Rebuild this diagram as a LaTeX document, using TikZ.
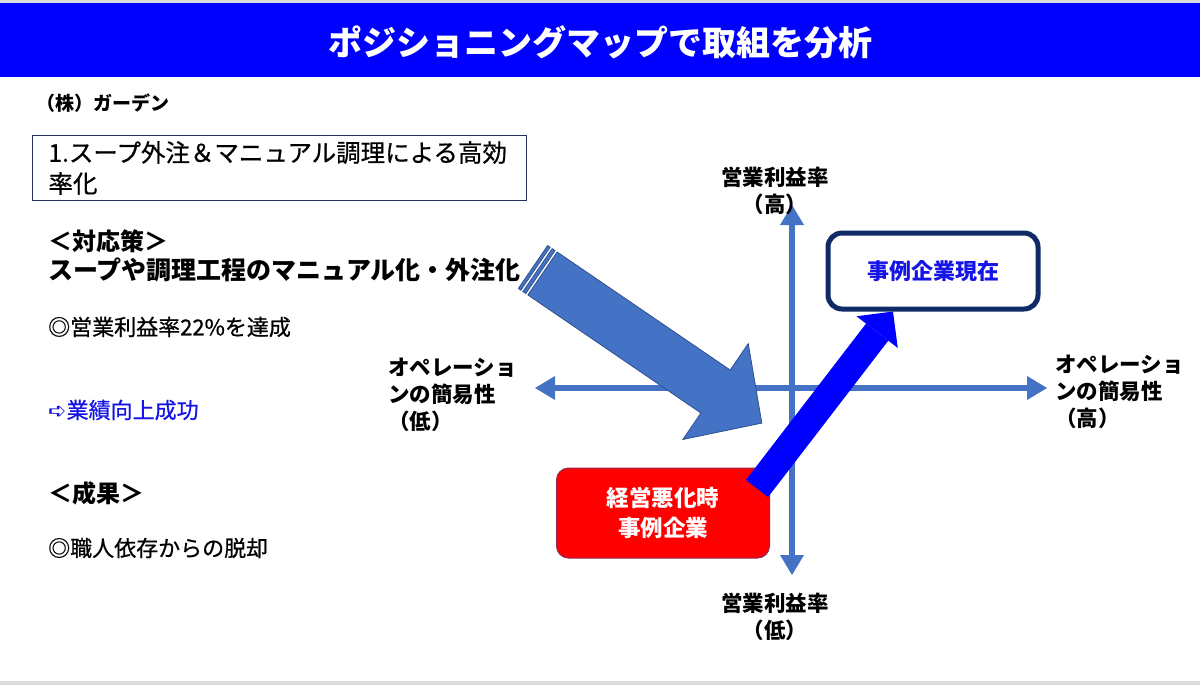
\documentclass[tikz,border=0pt]{standalone}
\usepackage{fontspec}
\setmainfont{Noto Sans CJK JP}
\newfontfamily\midfont[FakeBold=0.7]{Noto Sans CJK JP}
\newfontfamily\dingfont{DejaVu Sans}
\usetikzlibrary{positioning,calc,arrows.meta}

\definecolor{axisblue}{HTML}{4472C4}
\definecolor{arrowedge}{HTML}{2F528F}
\definecolor{navyedge}{HTML}{102A66}
\definecolor{pureblue}{HTML}{0000FF}
\definecolor{textblue}{HTML}{1414E6}
\definecolor{alarmred}{HTML}{FF0000}
\definecolor{rededge}{HTML}{8E2B54}
\definecolor{boxedge}{HTML}{27305E}
\definecolor{rulegray}{HTML}{DCDCDC}

\newcommand{\pxsize}[1]{\fontsize{#1}{#1}\selectfont}

\begin{document}
\begin{tikzpicture}[x=1pt,y=-1pt,
    every node/.style={inner sep=0pt},
    body/.style={anchor=west, font=\midfont\pxsize{22}},
    heading/.style={anchor=west, font=\bfseries\pxsize{24}},
    axislabel/.style={font=\bfseries\fontsize{21.5}{27}\selectfont},
    axis/.style={axisblue, line width=6pt,
        {Triangle[length=20pt,width=24pt,line width=0pt]}-{Triangle[length=20pt,width=24pt,line width=0pt]}},
    nowbox/.style={draw=navyedge, line width=5pt, rounded corners=14pt,
        minimum width=210pt, minimum height=76pt, fill=white,
        text=textblue, font=\bfseries\pxsize{22}},
    worsebox/.style={draw=rededge, line width=1pt, fill=alarmred, rounded corners=12pt,
        minimum width=213pt, minimum height=90pt, align=center,
        text=white, font=\bfseries\fontsize{22.5}{30}\selectfont},
    uparrow/.style={pureblue, line width=28pt,
        -{Triangle[length=26pt,width=52pt,line width=0pt]}}]
    \useasboundingbox (0,0) rectangle (1200,685);

    % title band
    \fill[rulegray] (0,0) rectangle (1200,3);
    \fill[pureblue] (0,3) rectangle (1200,77);
    \fill[rulegray] (0,681) rectangle (1200,685);
    \node[text=white, font=\bfseries\pxsize{34}] at (600,42) (title) {ポジショニングマップで取組を分析};

    % left column
    \node[anchor=west, font=\bfseries\pxsize{19}] at (36,103) (company) {（株）ガーデン};
    \node[draw=boxedge, line width=1pt, anchor=north west, inner xsep=16pt,
          text width=462pt, minimum width=494pt, minimum height=65pt, align=left,
          font=\midfont\fontsize{24.5}{31}\selectfont] at (32,135) (theme)
          {1.スープ外注＆マニュアル調理による高効\\率化};
    \node[heading] at (48,241) (measure) {＜対応策＞};
    \node[heading, font=\bfseries\pxsize{25}] at (48,270) (measuretext) {スープや調理工程のマニュアル化・外注化};
    \node[body] at (48,327) (profit) {◎営業利益率22\%を達成};
    \node[body, text=textblue] at (48,410) (success) {{\dingfont\pxsize{22}➪}業績向上成功};
    \node[heading] at (48,493) (result) {＜成果＞};
    \node[body] at (48,548) (craft) {◎職人依存からの脱却};

    % axes
    \coordinate (xlow) at (535,388);
    \coordinate (xhigh) at (1047,388);
    \coordinate (yhigh) at (792,205);
    \coordinate (ylow) at (792,575);
    \draw[axis] (xlow) -- (xhigh);
    \draw[axis] (ylow) -- (yhigh);

    \node[axislabel, align=center] at (775,191) (ytop) {営業利益率\\（高）};
    \node[axislabel, align=center] at (775,617) (ybottom) {営業利益率\\（低）};
    \node[axislabel, align=left, anchor=west] at (388,395) (xleft) {オペレーショ\\ンの簡易性\\（低）};
    \node[axislabel, align=left, anchor=west] at (1055,392) (xright) {オペレーショ\\ンの簡易性\\（高）};

    % striped arrow
    \begin{scope}[shift={(533,267)}, rotate=-34.3, fill=axisblue, draw=arrowedge, line width=0.8pt]
        \filldraw (0,-26) -- (3,-26) -- (3,26) -- (0,26) -- cycle;
        \filldraw (5.5,-26) -- (9,-26) -- (9,26) -- (5.5,26) -- cycle;
        \filldraw (11.5,-26) -- (221,-26) -- (221,-58) -- (277,0) -- (221,58)
                  -- (221,26) -- (11.5,26) -- cycle;
    \end{scope}

    % boxes
    \node[worsebox] at (663,513) (worse) {経営悪化時\\事例企業};
    \node[nowbox] at (933,271) (now) {事例企業現在};
    \draw[uparrow] ($(worse.north east)+(-13,21)$) -- ($(now.south)+(-40,0)$);
\end{tikzpicture}
\end{document}
